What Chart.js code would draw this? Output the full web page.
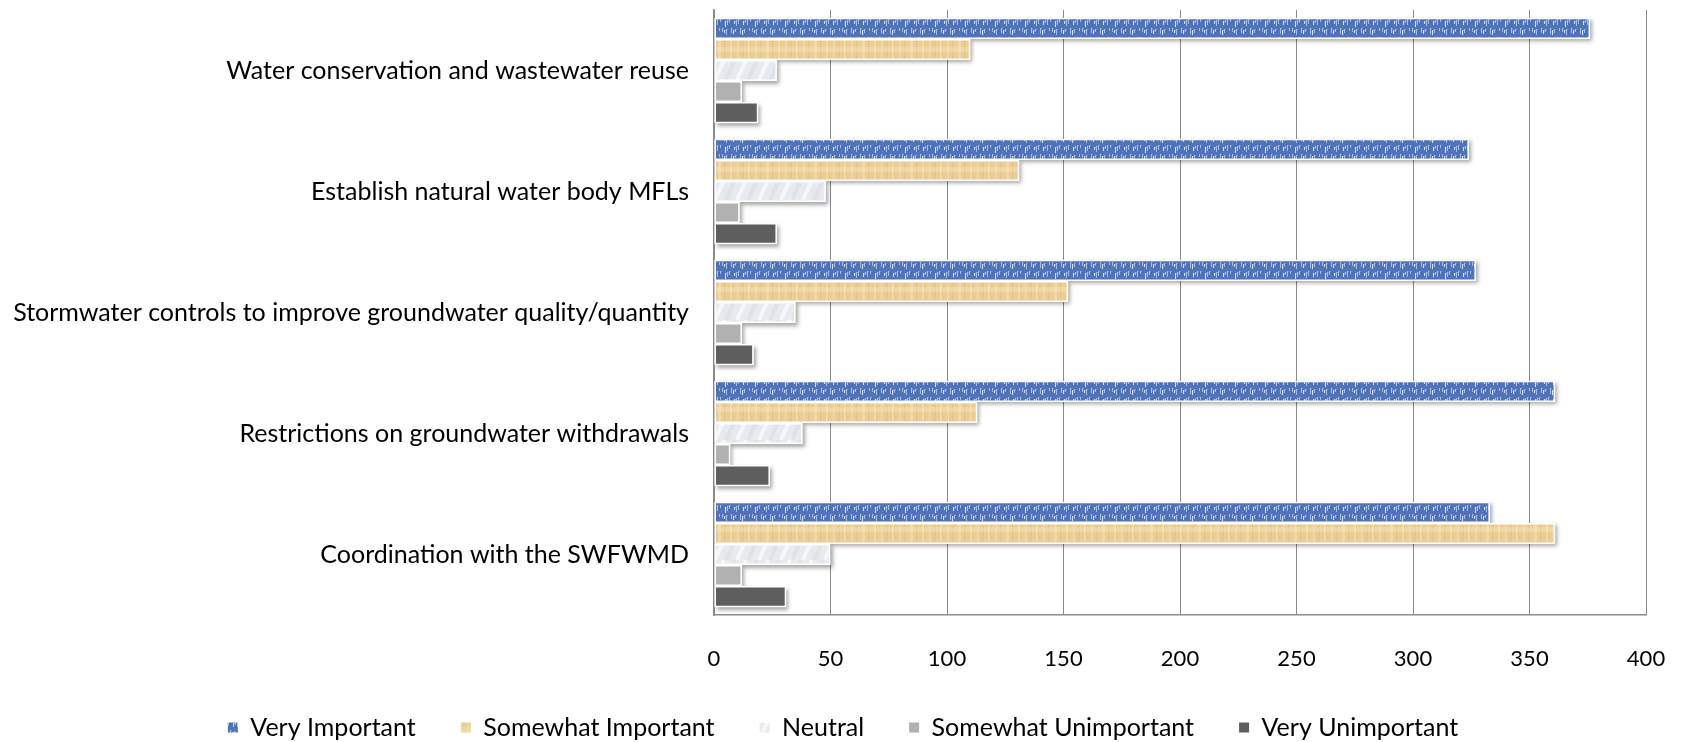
<!DOCTYPE html>
<html>
<head>
<meta charset="utf-8">
<title>Groundwater management priorities</title>
<script src="https://cdn.jsdelivr.net/npm/chart.js@4/dist/chart.umd.min.js"></script>
<style>
  html, body { margin: 0; padding: 0; background: #ffffff; }
  #wrap { width: 1681px; height: 742px; position: relative; }
</style>
</head>
<body>
<div id="wrap"><canvas id="chart" width="1681" height="742"></canvas></div>
<script>
// Categories (top to bottom) and series
const categories = [
  'Water conservation and wastewater reuse',
  'Establish natural water body MFLs',
  'Stormwater controls to improve groundwater quality/quantity',
  'Restrictions on groundwater withdrawals',
  'Coordination with the SWFWMD'
];
const seriesNames = ['Very Important', 'Somewhat Important', 'Neutral', 'Somewhat Unimportant', 'Very Unimportant'];
const veryImportant       = [376, 324, 327, 361, 333];
const somewhatImportant   = [110, 131, 152, 113, 361];
const neutral             = [27, 48, 35, 38, 50];
const somewhatUnimportant = [12, 11, 12, 7, 12];
const veryUnimportant     = [19, 27, 17, 24, 31];
const xTickLabels = [0, 50, 100, 150, 200, 250, 300, 350, 400];

const canvas = document.getElementById('chart');
const ctx = canvas.getContext('2d');

// Small repeating textures for the bar fills
function tile(w, h, paint) {
  const c = document.createElement('canvas');
  c.width = w; c.height = h;
  paint(c.getContext('2d'), w, h);
  return ctx.createPattern(c, 'repeat');
}

const blueTexture = tile(30, 18, (g, w, h) => {
  g.fillStyle = '#5073b9'; g.fillRect(0, 0, w, h);
  for (let r = 0; r < 2; r++) {
    for (let i = 0; i < 10; i++) {
      const x = i * 3 + ((i * 5 + r * 2) % 3);
      const y = 1 + r * 9 + ((i * 2) % 3);
      const len = 3 + ((i * 7 + r) % 4);
      g.fillStyle = (i % 3 === 1) ? '#d2e0f6' : '#a3bde8';
      g.fillRect(x, y, 1.4, len);
      g.fillStyle = '#34579b';
      g.fillRect(x + 1.5, y + 1, 0.8, len - 1);
    }
  }
});

const tanTexture = tile(48, 20, (g, w, h) => {
  g.fillStyle = '#ebcd93'; g.fillRect(0, 0, w, h);
  for (let i = 0; i < 16; i++) {
    const x = i * 3 + (i % 2);
    g.fillStyle = (i % 3 === 0) ? 'rgba(246,228,188,0.55)' : (i % 3 === 1 ? 'rgba(214,178,112,0.25)' : 'rgba(240,216,164,0.4)');
    g.fillRect(x, 0, 1 + (i % 2), h);
  }
  g.fillStyle = 'rgba(248,234,204,0.35)';
  g.fillRect(0, 7, w, 5);
});

const neutralTexture = tile(44, 20, (g, w, h) => {
  g.fillStyle = '#e7eaee'; g.fillRect(0, 0, w, h);
  g.lineWidth = 4;
  for (let i = 0; i < 4; i++) {
    g.strokeStyle = (i % 2) ? 'rgba(250,251,252,0.75)' : 'rgba(208,214,220,0.35)';
    g.beginPath();
    g.moveTo(i * 11, h);
    g.lineTo(i * 11 + 9, 0);
    g.stroke();
  }
});

const fills = [blueTexture, tanTexture, neutralTexture, '#b1b1b1', '#5e5e5e'];
const seriesValues = [veryImportant, somewhatImportant, neutral, somewhatUnimportant, veryUnimportant];

// Soft drop shadow behind every bar, placed from the bar elements themselves
const barShadow = {
  id: 'barShadow',
  beforeDatasetsDraw(chart) {
    const c = chart.ctx;
    c.save();
    c.shadowColor = 'rgba(0,0,0,0.35)';
    c.shadowBlur = 4;
    c.shadowOffsetX = 2;
    c.shadowOffsetY = 2.5;
    c.fillStyle = '#ffffff';
    chart.data.datasets.forEach((ds, di) => {
      const meta = chart.getDatasetMeta(di);
      meta.data.forEach(el => {
        const p = el.getProps(['x', 'y', 'base', 'height'], true);
        c.fillRect(p.base, p.y - p.height / 2, p.x - p.base, p.height);
      });
    });
    c.restore();
  }
};

// Centre the legend row under the page rather than under the padded box
const legendOffset = {
  id: 'legendOffset',
  afterLayout(chart) {
    if (chart.legend) chart.legend.left = 40;
  }
};

const FONT = 'Lato';

new Chart(ctx, {
  type: 'bar',
  data: {
    labels: categories,
    datasets: seriesNames.map((name, i) => ({
      label: name,
      data: seriesValues[i],
      backgroundColor: fills[i],
      borderColor: '#ffffff',
      borderWidth: 1.5,
      borderSkipped: false,
      categoryPercentage: 0.87,
      barPercentage: 1.0
    }))
  },
  options: {
    indexAxis: 'y',
    responsive: false,
    animation: false,
    devicePixelRatio: 1,
    layout: { padding: { top: 0, right: 35, bottom: -8, left: 0 } },
    scales: {
      x: {
        min: 0,
        max: 400,
        afterBuildTicks(scale) {
          scale.ticks = xTickLabels.map(v => ({ value: v }));
        },
        afterFit(scale) { scale.height = 55; },
        grid: { display: true, color: '#8a8a8a', lineWidth: 1, drawTicks: true, tickLength: 31, tickColor: 'rgba(0,0,0,0)' },
        border: { display: true, color: '#8a8a8a', width: 1.5 },
        ticks: { color: '#000000', font: { family: FONT, size: 22 }, padding: 0, maxRotation: 0 }
      },
      y: {
        afterFit(scale) { scale.width = 714; },
        grid: { display: true, drawOnChartArea: false, color: 'rgba(0,0,0,0)', drawTicks: true, tickLength: 25, tickColor: 'rgba(0,0,0,0)' },
        border: { display: true, color: '#8a8a8a', width: 1.5 },
        ticks: { color: '#000000', font: { family: FONT, size: 25, lineHeight: 0.8 }, padding: 0 }
      }
    },
    plugins: {
      legend: {
        position: 'bottom',
        labels: {
          color: '#000000',
          font: { family: FONT, size: 25 },
          boxWidth: 10,
          boxHeight: 10,
          padding: 45,
          generateLabels(chart) {
            return Chart.defaults.plugins.legend.labels.generateLabels(chart).map(it => Object.assign(it, { lineWidth: 0 }));
          }
        }
      },
      tooltip: { enabled: false }
    }
  },
  plugins: [barShadow, legendOffset]
});
</script>
</body>
</html>
